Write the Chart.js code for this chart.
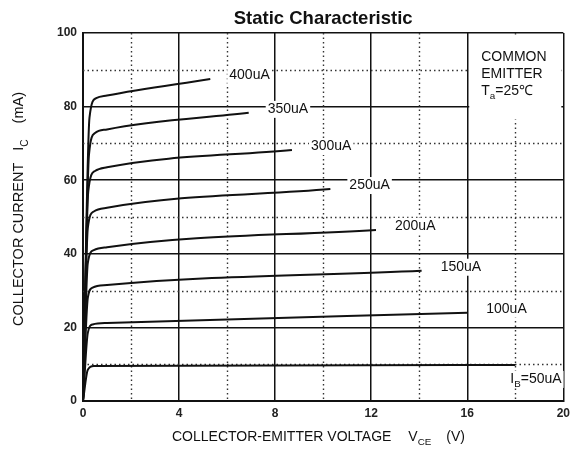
<!DOCTYPE html>
<html>
<head>
<meta charset="utf-8">
<script src="https://cdn.jsdelivr.net/npm/chart.js@4.4.1/dist/chart.umd.min.js"></script>
<style>
  body { margin: 0; background: #fff; }
</style>
</head>
<body>
<canvas id="myChart" width="575" height="456"></canvas>
<script>
// base current curves, Vce (V) vs Ic (mA)
var baseLabels = ['50uA', '100uA', '150uA', '200uA', '250uA', '300uA', '350uA', '400uA'];

var ib50V  = [0, 0.2, 0.45, 18];
var ib50I  = [0, 8.5, 9.5, 9.8];
var ib100V = [0, 0.2, 0.4, 1, 16];
var ib100I = [0, 18.5, 20.8, 21.2, 24.0];
var ib150V = [0, 0.2, 0.4, 1, 14.1];
var ib150I = [0, 28, 30.8, 31.5, 35.4];
var ib200V = [0, 0.2, 0.45, 1, 12.2];
var ib200I = [0, 37.5, 41, 41.8, 46.5];
var ib250V = [0, 0.2, 0.45, 1, 10.3];
var ib250I = [0, 47, 51.5, 52.5, 57.6];
var ib300V = [0, 0.22, 0.5, 1, 8.7];
var ib300I = [0, 57, 62.5, 63.5, 68.2];
var ib350V = [0, 0.25, 0.5, 1, 6.9];
var ib350I = [0, 67, 72.8, 73.8, 78.3];
var ib400V = [0, 0.27, 0.55, 1, 5.3];
var ib400I = [0, 77, 82.3, 83, 87.5];

var xTicks = [0, 4, 8, 12, 16, 20];
var yTicks = [0, 20, 40, 60, 80, 100];
var minorX = [2, 6, 10, 14, 18];
var minorY = [10, 30, 50, 70, 90];

var curvesV = [ib50V, ib100V, ib150V, ib200V, ib250V, ib300V, ib350V, ib400V];
var curvesI = [ib50I, ib100I, ib150I, ib200I, ib250I, ib300I, ib350I, ib400I];

var FONT = "'Liberation Sans', Arial, sans-serif";

function toPoints(vs, is) {
    return vs.map(function (v, k) { return { x: v, y: is[k] }; });
}

// draw text made of pieces, some of them subscripts
function richWidth(c, parts, size) {
    var w = 0;
    parts.forEach(function (p) {
        c.font = (p.sub ? size * 0.7 : size) + 'px ' + FONT;
        w += c.measureText(p.t).width;
    });
    return w;
}
function drawRich(c, x, y, parts, size, bg) {
    var w = richWidth(c, parts, size);
    if (bg) {
        c.fillStyle = '#fff';
        c.fillRect(x - 2, y - size / 2 - 1, w + 4, size + 3);
    }
    c.fillStyle = '#111';
    c.textBaseline = 'middle';
    c.textAlign = 'left';
    parts.forEach(function (p) {
        var s = p.sub ? size * 0.7 : size;
        c.font = s + 'px ' + FONT;
        c.fillText(p.t, x, p.sub ? y + size * 0.4 : y);
        x += c.measureText(p.t).width;
    });
    return w;
}

var overlay = {
    id: 'overlay',
    beforeDatasetsDraw: function (chart) {
        var c = chart.ctx, xs = chart.scales.x, ys = chart.scales.y, a = chart.chartArea;
        c.save();
        // dotted minor grid
        c.strokeStyle = '#333';
        c.lineWidth = 1.4;
        c.setLineDash([1.5, 3]);
        c.beginPath();
        minorX.forEach(function (v) {
            var px = Math.round(xs.getPixelForValue(v)) + 0.5;
            c.moveTo(px, a.top); c.lineTo(px, a.bottom);
        });
        minorY.forEach(function (v) {
            var py = Math.round(ys.getPixelForValue(v)) + 0.5;
            c.moveTo(a.left, py); c.lineTo(a.right, py);
        });
        c.stroke();
        c.setLineDash([]);

        // note box in the top right corner
        var bx = xs.getPixelForValue(16) + 2, by = a.top + 2;
        c.fillStyle = '#fff';
        c.fillRect(bx, by, xs.getPixelForValue(20) - 2 - bx, ys.getPixelForValue(76.5) - by);
        drawRich(c, bx + 12, 57, [{ t: 'COMMON' }], 14);
        drawRich(c, bx + 12, 74, [{ t: 'EMITTER' }], 14);
        drawRich(c, bx + 12, 91, [{ t: 'T' }, { t: 'a', sub: true }, { t: '=25\u2103' }], 14);

        // curve labels next to the end of each curve
        baseLabels.forEach(function (lab, k) {
            var vs = curvesV[k], is = curvesI[k];
            var ex = xs.getPixelForValue(vs[vs.length - 1]);
            var ey = ys.getPixelForValue(is[is.length - 1]);
            if (k === 0) {
                drawRich(c, ex - 5, ey + 14, [{ t: 'I' }, { t: 'B', sub: true }, { t: '=50uA' }], 14, true);
            } else {
                drawRich(c, ex + 19, ey - 4, [{ t: lab }], 14, true);
            }
        });
        c.restore();
    },
    afterDraw: function (chart) {
        var c = chart.ctx, a = chart.chartArea;
        c.save();
        // title
        c.fillStyle = '#111';
        c.font = 'bold 18.5px ' + FONT;
        c.textAlign = 'center';
        c.textBaseline = 'middle';
        c.fillText('Static Characteristic', (a.left + a.right) / 2, 19);

        // x axis title
        var xp = 172;
        xp += drawRich(c, xp, 437, [{ t: 'COLLECTOR-EMITTER VOLTAGE' }], 14) + 17;
        xp += drawRich(c, xp, 437, [{ t: 'V' }, { t: 'CE', sub: true }], 14) + 15;
        drawRich(c, xp, 437, [{ t: '(V)' }], 14);

        // y axis title, rotated
        c.translate(19, 326);
        c.rotate(-Math.PI / 2);
        var yp = 0;
        yp += drawRich(c, yp, 0, [{ t: 'COLLECTOR CURRENT' }], 14.5) + 12;
        yp += drawRich(c, yp, 0, [{ t: 'I' }, { t: 'C', sub: true }], 14.5) + 16;
        drawRich(c, yp, 0, [{ t: '(mA)' }], 14.5);
        c.restore();
    }
};

var ctx = document.getElementById('myChart').getContext('2d');
var myChart = new Chart(ctx, {
    type: 'scatter',
    data: {
        datasets: baseLabels.map(function (lab, k) {
            return {
                label: lab,
                data: toPoints(curvesV[k], curvesI[k]),
                showLine: true,
                borderColor: '#111',
                borderWidth: 2,
                pointRadius: 0,
                fill: false,
                cubicInterpolationMode: 'monotone'
            };
        })
    },
    options: {
        responsive: false,
        animation: false,
        devicePixelRatio: 1,
        layout: { padding: { top: 33, right: 7, left: 0, bottom: 0 } },
        plugins: {
            legend: { display: false },
            tooltip: { enabled: false }
        },
        scales: {
            x: {
                type: 'linear',
                min: 0,
                max: 20,
                afterBuildTicks: function (s) { s.ticks = xTicks.map(function (v) { return { value: v }; }); },
                afterFit: function (s) { s.height = 55; },
                ticks: { color: '#222', padding: 5, font: { family: FONT, size: 12, weight: 'bold' } },
                grid: { color: '#111', lineWidth: 1.5, drawTicks: false },
                border: { color: '#111', width: 2 }
            },
            y: {
                min: 0,
                max: 100,
                afterBuildTicks: function (s) { s.ticks = yTicks.map(function (v) { return { value: v }; }); },
                afterFit: function (s) { s.width = 83; },
                ticks: { color: '#222', padding: 6, font: { family: FONT, size: 12, weight: 'bold' } },
                grid: { color: '#111', lineWidth: 1.5, drawTicks: false },
                border: { color: '#111', width: 2 }
            }
        }
    },
    plugins: [overlay]
});
</script>
</body>
</html>
